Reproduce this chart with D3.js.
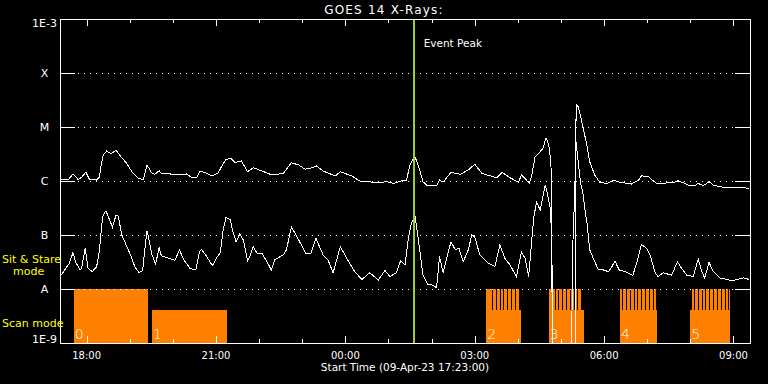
<!DOCTYPE html>
<html>
<head>
<meta charset="utf-8">
<script src="https://cdn.jsdelivr.net/npm/d3@7"></script>
<style>
  html, body { margin: 0; padding: 0; background: #000; }
  svg { display: block; font-family: "DejaVu Sans", sans-serif; }
</style>
</head>
<body>
<div id="chart"></div>
<script>
// ---- data ----
const startTime = "2023-04-09T17:23:00Z";
const spanMinutes = 960;
const eventPeak = "01:35";

// long channel (1-8 A), minutes after start / flux W m^-2
const longTimes = [0,5,12,18,21,25,30,36,41,51,55,57,60,65,71,78,83,93,100,109,
  116,121,128,132,138,141,153,165,176,183,190,195,204,212,220,226,231,238,243,250,
  252,261,269,281,295,311,322,332,341,351,357,366,383,390,406,417,429,441,455,464,
  475,482,487,490,494,499,505,510,524,528,533,544,557,568,577,587,598,608,615,626,
  638,642,647,653,656,661,668,672,676,678,681,684,685,717,718,721,726,728,733,737,
  744,751,761,770,779,795,805,809,819,824,830,853,860,867,874,883,888,895,903,909,
  918,932,946,959];
const longFlux = [1.04e-6,1.07e-6,1.07e-6,1.35e-6,1.24e-6,1.07e-6,1.17e-6,1.45e-6,1.07e-6,1.04e-6,
  1.2e-6,1.84e-6,3.0e-6,3.6e-6,3.2e-6,3.75e-6,3.0e-6,2.1e-6,1.49e-6,1.12e-6,
  1.07e-6,1.98e-6,1.39e-6,1.33e-6,1.55e-6,1.39e-6,1.35e-6,1.31e-6,1.35e-6,1.17e-6,
  1.15e-6,1.53e-6,1.39e-6,1.24e-6,1.42e-6,1.98e-6,2.52e-6,2.63e-6,2.22e-6,2.28e-6,
  2.37e-6,1.49e-6,1.76e-6,1.53e-6,1.29e-6,1.39e-6,2.18e-6,1.98e-6,1.65e-6,1.76e-6,
  1.9e-6,1.53e-6,1.24e-6,1.49e-6,1.24e-6,1.0e-6,0.97e-6,0.93e-6,0.97e-6,0.9e-6,
  1.01e-6,1.04e-6,1.98e-6,2.37e-6,2.8e-6,1.84e-6,0.97e-6,0.84e-6,0.81e-6,1.04e-6,
  0.95e-6,1.45e-6,1.33e-6,1.6e-6,2.04e-6,1.39e-6,1.25e-6,1.15e-6,1.45e-6,1.15e-6,
  0.95e-6,1.29e-6,1.12e-6,0.9e-6,1.2e-6,2.8e-6,3.5e-6,4.0e-6,6.2e-6,5.7e-6,
  4.0e-6,1.29e-6,1e-9,1e-9,2.6e-5,2.4e-5,1.25e-5,9.5e-6,4.6e-6,2.28e-6,
  1.29e-6,0.95e-6,0.9e-6,1.04e-6,0.95e-6,0.88e-6,1.04e-6,1.25e-6,1.2e-6,1.04e-6,
  0.9e-6,0.93e-6,1.01e-6,0.93e-6,0.84e-6,0.82e-6,0.9e-6,0.82e-6,0.97e-6,0.84e-6,
  0.78e-6,0.75e-6,0.76e-6,0.73e-6];

// short channel (0.5-4 A)
const shortTimes = [0,4,8,13,18,22,28,30,35,39,45,51,55,58,60,64,69,73,78,81,
  86,93,98,104,110,115,118,121,123,128,133,138,141,151,160,166,173,181,189,194,
  197,204,212,219,223,227,231,237,240,245,250,255,261,264,269,274,281,288,294,299,
  311,315,322,332,342,349,356,366,373,380,390,399,410,420,431,443,452,459,468,474,
  480,485,489,494,499,505,512,517,524,528,533,538,544,550,555,561,568,573,577,584,
  596,605,612,619,626,635,642,647,652,655,659,663,668,675,678,682,684,685,712,713,
  716,718,721,724,728,730,733,737,742,749,756,763,768,772,778,786,797,803,809,816,
  821,828,832,839,851,859,865,872,881,888,893,897,903,909,918,928,935,941,951,959];
const shortFlux = [1.7e-8,2.0e-8,2.4e-8,3.0e-8,4.7e-8,3.1e-8,2.25e-8,2.4e-8,5.7e-8,2.4e-8,
  2.1e-8,2.6e-8,5.3e-8,1.53e-7,2.35e-7,2.8e-7,1.9e-7,1.39e-7,2.35e-7,2.25e-7,
  1.0e-7,6.1e-8,4.3e-8,2.6e-8,2.0e-8,2.2e-8,5.3e-8,1.2e-7,9.3e-8,4.3e-8,
  2.9e-8,5.9e-8,4.1e-8,3.7e-8,3.4e-8,5.3e-8,3.35e-8,2.4e-8,2.25e-8,4.9e-8,
  5.4e-8,4.0e-8,2.7e-8,4.0e-8,4.7e-8,1.24e-7,2.13e-7,1.9e-7,1.24e-7,7.5e-8,
  1.04e-7,8.1e-8,3.35e-8,4.0e-8,6.1e-8,4.6e-8,4.6e-8,3.2e-8,2.25e-8,3.5e-8,
  4.3e-8,5.3e-8,1.42e-7,8.1e-8,4.6e-8,4.6e-8,8.7e-8,4.3e-8,3.4e-8,2.0e-8,
  6.1e-8,3.7e-8,2.1e-8,1.5e-8,2.0e-8,1.47e-8,2.2e-8,1.7e-8,2.0e-8,3.35e-8,
  2.8e-8,9.3e-8,1.69e-7,2.18e-7,7.5e-8,1.8e-8,1.2e-8,1.2e-8,1.06e-8,4.0e-8,
  2.0e-8,3.7e-8,7.5e-8,5.3e-8,5.7e-8,3.2e-8,5.3e-8,1.0e-7,9.3e-8,4.3e-8,
  3.0e-8,2.6e-8,6.5e-8,3.7e-8,2.8e-8,1.7e-8,4.8e-8,3.7e-8,1.7e-8,4.9e-8,
  2.04e-7,4.1e-7,2.9e-7,8.4e-7,6.0e-7,3.16e-7,1.0e-7,1e-9,1e-9,4.3e-8,
  5.5e-7,5.3e-6,2.3e-6,9.7e-7,5.5e-7,3.1e-7,1.76e-7,5.3e-8,3.7e-8,2.25e-8,
  2.25e-8,2.1e-8,2.6e-8,3.3e-8,2.25e-8,2.1e-8,1.8e-8,3.2e-8,6.7e-8,5.7e-8,
  4.3e-8,2.0e-8,1.7e-8,2.0e-8,1.8e-8,3.2e-8,2.4e-8,1.8e-8,1.7e-8,3.6e-8,
  2.1e-8,1.6e-8,3.1e-8,2.1e-8,1.6e-8,1.5e-8,1.4e-8,1.5e-8,1.6e-8,1.5e-8];

// flare class levels on the y axis
const levelValues = [1e-3, 1e-4, 1e-5, 1e-6, 1e-7, 1e-8, 1e-9];
const levelLabels = ["1E-3", "X", "M", "C", "B", "A", "1E-9"];

// observing blocks (sit & stare band on top, scan band below)
const blockLabels = ["0", "1", "2", "3", "4", "5"];
const scanStart = ["17:42", "19:31", "03:16", "04:43", "06:22", "08:00"];
const scanEnd   = ["19:25", "21:15", "04:04", "05:32", "07:13", "08:55"];
const stareStart = ["17:42", null, "03:16", "04:43", "06:22", "08:02"];
const stareEnd   = ["19:25", null, "04:02", "05:28", "07:12", "08:55"];
const breakFirst = [null, null, "03:24", "04:51", "06:25", "08:05"];
const breakCount = [0, 0, 7, 7, 9, 10];
const breakEvery = 5.33;   // minutes between scan breaks
const breakLength = 1.4;   // minutes

// ---- layout ----
const width = 768, height = 384;
const margins = { top: 19, right: 18, bottom: 41, left: 60 };
const w = width - margins.left - margins.right;
const h = height - margins.top - margins.bottom;
const orange = "#ff8000";
const yellow = "#ffff00";

const t0 = new Date(startTime);
const startMin = t0.getUTCHours() * 60 + t0.getUTCMinutes();
const atMinute = m => new Date(t0.getTime() + m * 60000);
const clockMinutes = s => {
  const [hh, mm] = s.split(":").map(Number);
  return ((hh * 60 + mm - startMin) % 1440 + 1440) % 1440;
};

const x = d3.scaleUtc()
  .domain([t0, atMinute(spanMinutes)])
  .range([0, w]);
const y = d3.scaleLog()
  .domain([1e-9, 1e-3])
  .range([h, 0])
  .clamp(true);

const svg = d3.select("#chart").append("svg")
  .attr("width", width)
  .attr("height", height)
  .style("background", "#000");

svg.append("text")
  .attr("x", 384)
  .attr("y", 14)
  .attr("text-anchor", "middle")
  .attr("fill", "#fff")
  .style("font-size", "12px")
  .style("letter-spacing", "1.2px")
  .text("GOES 14 X-Rays:");

const g = svg.append("g")
  .attr("transform", `translate(${margins.left},${margins.top})`);

// observing blocks
const aTop = y(1e-8);
const scanTop = aTop + 21;

blockLabels.forEach((label, i) => {
  const s0 = x(atMinute(clockMinutes(scanStart[i])));
  const s1 = x(atMinute(clockMinutes(scanEnd[i])));
  g.append("rect")
    .attr("x", s0).attr("y", scanTop)
    .attr("width", s1 - s0).attr("height", h - scanTop)
    .attr("fill", orange)
    .attr("shape-rendering", "crispEdges");

  if (stareStart[i]) {
    const u0 = x(atMinute(clockMinutes(stareStart[i])));
    const u1 = x(atMinute(clockMinutes(stareEnd[i])));
    g.append("rect")
      .attr("x", u0).attr("y", aTop)
      .attr("width", u1 - u0).attr("height", scanTop - aTop)
      .attr("fill", orange)
      .attr("shape-rendering", "crispEdges");
  }

  if (breakFirst[i]) {
    const first = clockMinutes(breakFirst[i]);
    const breaks = d3.range(breakCount[i]).map(k => first + k * breakEvery);
    g.selectAll(null)
      .data(breaks)
      .enter().append("rect")
      .attr("x", d => x(atMinute(d)))
      .attr("y", aTop)
      .attr("width", d => Math.max(1, x(atMinute(d + breakLength)) - x(atMinute(d))))
      .attr("height", scanTop - aTop)
      .attr("fill", "#000")
      .attr("shape-rendering", "crispEdges");
  }

  g.append("text")
    .attr("x", s0 + 1)
    .attr("y", h - 4)
    .attr("fill", "#fff")
    .style("font-size", "14px")
    .style("font-weight", "300")
    .text(label);
});

// flare level grid: short solid ticks on both sides, dotted between
const grid = g.append("g").attr("class", "grid");
levelValues.slice(1, -1).forEach(v => {
  const yy = Math.round(y(v)) + 0.5;
  grid.append("line")
    .attr("x1", 15).attr("x2", w - 15)
    .attr("y1", yy).attr("y2", yy)
    .attr("stroke", "#fff")
    .attr("stroke-dasharray", "1 5")
    .attr("stroke-dashoffset", 3)
    .attr("shape-rendering", "crispEdges");
  grid.append("line")
    .attr("x1", 0).attr("x2", 15)
    .attr("y1", yy).attr("y2", yy)
    .attr("stroke", "#fff")
    .attr("shape-rendering", "crispEdges");
  grid.append("line")
    .attr("x1", w - 15).attr("x2", w)
    .attr("y1", yy).attr("y2", yy)
    .attr("stroke", "#fff")
    .attr("shape-rendering", "crispEdges");
});

// flux curves
const line = (times, flux) => d3.line()
  .x((d, i) => x(atMinute(times[i])))
  .y(d => y(d))(flux);

g.append("path")
  .attr("d", line(longTimes, longFlux))
  .attr("fill", "none")
  .attr("stroke", "#fff")
  .attr("stroke-width", 1)
  .attr("shape-rendering", "crispEdges");

g.append("path")
  .attr("d", line(shortTimes, shortFlux))
  .attr("fill", "none")
  .attr("stroke", "#fff")
  .attr("stroke-width", 1)
  .attr("shape-rendering", "crispEdges");

// event peak marker
const xPeak = x(atMinute(clockMinutes(eventPeak)));
g.append("line")
  .attr("x1", xPeak).attr("x2", xPeak)
  .attr("y1", 0).attr("y2", h)
  .attr("stroke", "#9acd32")
  .attr("stroke-width", 2)
  .attr("shape-rendering", "crispEdges");

g.append("text")
  .attr("x", xPeak + 10)
  .attr("y", 28)
  .attr("fill", "#fff")
  .style("font-size", "10.5px")
  .text("Event Peak");

// frame
g.append("rect")
  .attr("x", 0.5).attr("y", 0.5)
  .attr("width", w).attr("height", h)
  .attr("fill", "none")
  .attr("stroke", "#fff")
  .attr("shape-rendering", "crispEdges");

// time ticks on bottom and top
const hours = x.ticks(d3.utcHour.every(1));
const isMajor = d => d.getUTCHours() % 3 === 0;

g.selectAll(".tick-bottom")
  .data(hours)
  .enter().append("line")
  .attr("class", "tick-bottom")
  .attr("x1", d => Math.round(x(d)) + 0.5)
  .attr("x2", d => Math.round(x(d)) + 0.5)
  .attr("y1", h)
  .attr("y2", d => h - (isMajor(d) ? 7 : 4))
  .attr("stroke", "#fff")
  .attr("shape-rendering", "crispEdges");

g.selectAll(".tick-top")
  .data(hours)
  .enter().append("line")
  .attr("class", "tick-top")
  .attr("x1", d => Math.round(x(d)) + 0.5)
  .attr("x2", d => Math.round(x(d)) + 0.5)
  .attr("y1", 0)
  .attr("y2", d => isMajor(d) ? 7 : 4)
  .attr("stroke", "#fff")
  .attr("shape-rendering", "crispEdges");

g.selectAll(".tick-label")
  .data(hours.filter(isMajor))
  .enter().append("text")
  .attr("class", "tick-label")
  .attr("x", d => x(d))
  .attr("y", h + 16)
  .attr("text-anchor", "middle")
  .attr("fill", "#fff")
  .style("font-size", "10px")
  .text(d3.utcFormat("%H:%M"));

g.append("text")
  .attr("x", w / 2)
  .attr("y", h + 28)
  .attr("text-anchor", "middle")
  .attr("fill", "#fff")
  .style("font-size", "10.5px")
  .text(`Start Time (${d3.utcFormat("%d-%b-%y %H:%M:%S")(t0)})`);

// y level labels
g.selectAll(".level-label")
  .data(levelValues)
  .enter().append("text")
  .attr("class", "level-label")
  .attr("x", -15.5)
  .attr("y", (d, i) => i === 0 ? y(d) + 8 : i === levelValues.length - 1 ? y(d) : y(d) + 4)
  .attr("text-anchor", "middle")
  .attr("fill", "#fff")
  .style("font-size", "11px")
  .text((d, i) => levelLabels[i]);

// mode captions
const captions = [
  { text: "Sit & Stare", x: 2, y: 263 },
  { text: "mode", x: 13, y: 275 },
  { text: "Scan mode", x: 2, y: 327 }
];
svg.selectAll(".caption")
  .data(captions)
  .enter().append("text")
  .attr("class", "caption")
  .attr("x", d => d.x)
  .attr("y", d => d.y)
  .attr("fill", yellow)
  .style("font-size", "11px")
  .text(d => d.text);
</script>
</body>
</html>
